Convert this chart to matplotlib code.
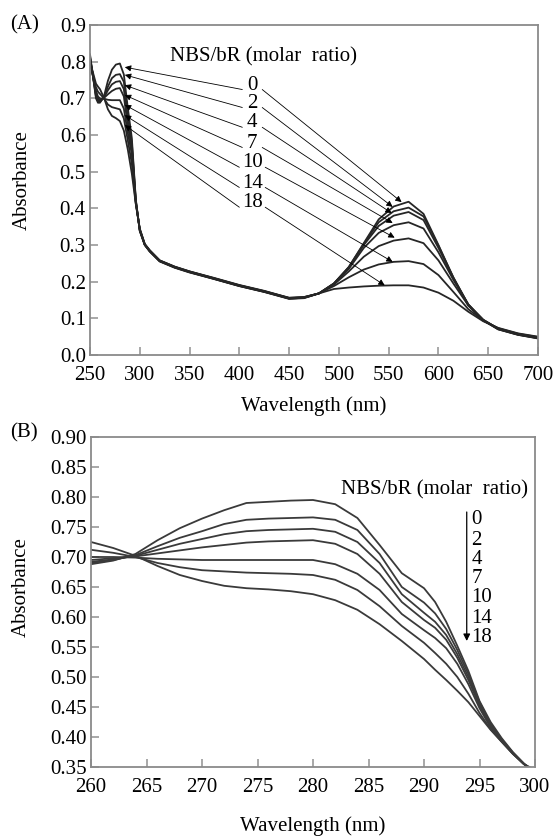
import matplotlib
matplotlib.use('Agg')
import matplotlib.pyplot as plt

plt.rcParams['font.family'] = ['Liberation Serif', 'DejaVu Serif']

# molar ratios NBS/bR
ratios = ['0', '2', '4', '7', '10', '14', '18']

# panel A: full spectra
wl_a = [250, 253, 256, 258, 260, 264, 268, 272, 276, 280, 284, 288, 292, 296, 300,
        305, 310, 320, 335, 350, 375, 400, 425, 450, 465, 480, 495, 510, 525, 540,
        555, 570, 585, 600, 615, 630, 645, 660, 680, 700]
a0 = [0.820, 0.760, 0.700, 0.688, 0.688, 0.705, 0.748, 0.778, 0.792, 0.795, 0.765, 0.673, 0.592, 0.425, 0.338,
      0.300, 0.282, 0.255, 0.238, 0.225, 0.207, 0.188, 0.172, 0.153, 0.155, 0.168, 0.195, 0.240, 0.305, 0.370,
      0.405, 0.418, 0.385, 0.300, 0.210, 0.135, 0.095, 0.070, 0.055, 0.045]
a2 = [0.815, 0.760, 0.705, 0.692, 0.690, 0.703, 0.732, 0.755, 0.764, 0.766, 0.745, 0.650, 0.580, 0.422, 0.339,
      0.300, 0.283, 0.256, 0.239, 0.226, 0.207, 0.188, 0.172, 0.154, 0.156, 0.168, 0.195, 0.240, 0.303, 0.362,
      0.392, 0.402, 0.378, 0.298, 0.212, 0.137, 0.094, 0.070, 0.055, 0.046]
a4 = [0.810, 0.760, 0.710, 0.695, 0.692, 0.702, 0.722, 0.738, 0.745, 0.747, 0.725, 0.638, 0.570, 0.420, 0.340,
      0.301, 0.283, 0.256, 0.239, 0.226, 0.208, 0.189, 0.173, 0.154, 0.156, 0.168, 0.195, 0.238, 0.300, 0.352,
      0.380, 0.390, 0.368, 0.292, 0.210, 0.138, 0.095, 0.071, 0.056, 0.046]
a7 = [0.810, 0.760, 0.715, 0.700, 0.695, 0.701, 0.711, 0.720, 0.726, 0.728, 0.705, 0.625, 0.562, 0.418, 0.341,
      0.301, 0.284, 0.257, 0.240, 0.227, 0.208, 0.189, 0.173, 0.155, 0.157, 0.168, 0.194, 0.235, 0.292, 0.333,
      0.354, 0.362, 0.345, 0.280, 0.205, 0.138, 0.096, 0.072, 0.056, 0.047]
a10 = [0.800, 0.760, 0.720, 0.705, 0.700, 0.699, 0.696, 0.695, 0.695, 0.695, 0.672, 0.605, 0.548, 0.416, 0.342,
       0.302, 0.284, 0.257, 0.240, 0.227, 0.209, 0.190, 0.174, 0.155, 0.157, 0.168, 0.192, 0.228, 0.268, 0.297,
       0.312, 0.318, 0.305, 0.258, 0.195, 0.135, 0.096, 0.072, 0.057, 0.048]
a14 = [0.800, 0.765, 0.730, 0.718, 0.712, 0.700, 0.683, 0.676, 0.673, 0.670, 0.645, 0.585, 0.522, 0.413, 0.343,
       0.302, 0.285, 0.258, 0.241, 0.228, 0.209, 0.190, 0.174, 0.156, 0.158, 0.168, 0.188, 0.212, 0.233, 0.247,
       0.254, 0.256, 0.248, 0.218, 0.172, 0.125, 0.094, 0.073, 0.058, 0.049]
a18 = [0.800, 0.770, 0.740, 0.732, 0.725, 0.702, 0.670, 0.652, 0.646, 0.638, 0.612, 0.560, 0.495, 0.412, 0.345,
       0.303, 0.286, 0.258, 0.241, 0.228, 0.210, 0.191, 0.175, 0.156, 0.158, 0.168, 0.180, 0.184, 0.187, 0.189,
       0.190, 0.190, 0.184, 0.170, 0.148, 0.118, 0.092, 0.074, 0.059, 0.050]

# panel B: zoom on the 280 nm band
wl_b = [260, 262, 264, 266, 268, 270, 272, 274, 276, 278, 280, 282, 284, 286, 288,
        290, 291, 292, 293, 294, 295, 296, 297, 298, 299, 300]
b0 = [0.688, 0.694, 0.705, 0.728, 0.748, 0.764, 0.778, 0.790, 0.792, 0.794, 0.795, 0.788, 0.765, 0.720, 0.673,
      0.648, 0.625, 0.592, 0.552, 0.510, 0.460, 0.425, 0.398, 0.375, 0.356, 0.338]
b2 = [0.690, 0.695, 0.703, 0.718, 0.732, 0.743, 0.755, 0.762, 0.764, 0.765, 0.766, 0.762, 0.745, 0.705, 0.650,
      0.624, 0.606, 0.580, 0.545, 0.505, 0.458, 0.422, 0.396, 0.374, 0.355, 0.339]
b4 = [0.692, 0.696, 0.702, 0.712, 0.722, 0.730, 0.738, 0.743, 0.745, 0.746, 0.747, 0.742, 0.725, 0.690, 0.638,
      0.607, 0.592, 0.570, 0.538, 0.500, 0.455, 0.420, 0.395, 0.373, 0.355, 0.340]
b7 = [0.695, 0.698, 0.701, 0.706, 0.711, 0.716, 0.720, 0.724, 0.726, 0.727, 0.728, 0.722, 0.705, 0.672, 0.625,
      0.595, 0.582, 0.562, 0.532, 0.495, 0.452, 0.418, 0.394, 0.373, 0.355, 0.341]
b10 = [0.700, 0.700, 0.699, 0.697, 0.696, 0.695, 0.695, 0.695, 0.695, 0.695, 0.695, 0.688, 0.672, 0.645, 0.605,
       0.578, 0.565, 0.548, 0.522, 0.488, 0.448, 0.416, 0.393, 0.373, 0.355, 0.342]
b14 = [0.712, 0.707, 0.700, 0.690, 0.683, 0.678, 0.676, 0.674, 0.673, 0.672, 0.670, 0.662, 0.645, 0.618, 0.585,
       0.557, 0.540, 0.522, 0.500, 0.472, 0.440, 0.413, 0.392, 0.372, 0.355, 0.343]
b18 = [0.725, 0.715, 0.702, 0.685, 0.670, 0.660, 0.652, 0.648, 0.646, 0.643, 0.638, 0.628, 0.612, 0.588, 0.560,
       0.530, 0.512, 0.495, 0.477, 0.458, 0.435, 0.412, 0.392, 0.372, 0.355, 0.345]

# label positions and arrow tips (wavelength, absorbance)
lab_y_a = [0.736, 0.687, 0.633, 0.578, 0.524, 0.469, 0.415]
tip_left = [0.785, 0.764, 0.736, 0.709, 0.682, 0.654, 0.627]
tip_right_x = [563, 554, 553, 554, 556, 554, 546]
tip_right_y = [0.417, 0.404, 0.387, 0.360, 0.320, 0.254, 0.190]
lab_y_b = [0.762, 0.727, 0.695, 0.664, 0.632, 0.598, 0.565]

curves_a = [a0, a2, a4, a7, a10, a14, a18]
curves_b = [b0, b2, b4, b7, b10, b14, b18]

fig = plt.figure(figsize=(5.56, 8.39), dpi=100)
ax1 = fig.add_axes([90/556, 1-355/839, 448/556, 330/839])
ax2 = fig.add_axes([91/556, 1-767/839, 444/556, 330/839])

for c in curves_a:
    ax1.plot(wl_a, c, color='#262626', lw=1.3)
for c in curves_b:
    ax2.plot(wl_b, c, color='#3a3a3a', lw=1.3)

fs = 15
for ax in (ax1, ax2):
    for s in ax.spines.values():
        s.set_color('#8a8a8a')
        s.set_linewidth(1.3)
    ax.tick_params(direction='in', length=6, width=1.2, color='#9a9a9a',
                   labelsize=fs, pad=3)
    ax.tick_params(axis='x', pad=8)

ax1.set_xlim(250, 700)
ax1.set_ylim(0.0, 0.9)
ax1.set_xticks(range(250, 701, 50))
ax1.set_yticks([i/10 for i in range(10)])
ax1.set_yticklabels([f'{i/10:.1f}' for i in range(10)])
ax1.set_xlabel('Wavelength (nm)', fontsize=fs)
ax1.set_ylabel('Absorbance', fontsize=fs)
ax1.xaxis.set_label_coords(0.5, -0.125)
ax1.yaxis.set_label_coords(-0.13, 0.53)

ax2.set_xlim(260, 300)
ax2.set_ylim(0.35, 0.90)
ax2.set_xticks(range(260, 301, 5))
ax2.set_yticks([0.35 + 0.05*i for i in range(12)])
ax2.set_yticklabels([f'{0.35 + 0.05*i:.2f}' for i in range(12)])
ax2.set_xlabel('Wavelength (nm)', fontsize=fs)
ax2.set_ylabel('Absorbance', fontsize=fs)
ax2.xaxis.set_label_coords(0.5, -0.148)
ax2.yaxis.set_label_coords(-0.135, 0.545)

# panel A labels and arrows
ax1.text(424, 0.813, 'NBS/bR (molar  ratio)', fontsize=fs, ha='center', va='center')
ap = dict(arrowstyle='-|>', lw=0.6, color='k', mutation_scale=9, shrinkA=0, shrinkB=0)
for i, r in enumerate(ratios):
    ax1.text(413, lab_y_a[i], r, fontsize=fs, ha='center', va='center')
    off = 5 + 3*len(r)
    ax1.annotate('', xy=(285, tip_left[i]), xytext=(413 - off - 2, lab_y_a[i] - 0.012),
                 arrowprops=ap)
    ax1.annotate('', xy=(tip_right_x[i], tip_right_y[i]), xytext=(413 + off + 2, lab_y_a[i] - 0.012),
                 arrowprops=ap)

# panel B labels and arrow
ax2.text(299.4, 0.812, 'NBS/bR (molar  ratio)', fontsize=fs, ha='right', va='center')
for i, r in enumerate(ratios):
    ax2.text(294.25, lab_y_b[i], r, fontsize=fs, ha='left', va='center')
ax2.annotate('', xy=(293.85, 0.560), xytext=(293.85, 0.775),
             arrowprops=dict(arrowstyle='-|>', lw=0.9, color='k', mutation_scale=10,
                             shrinkA=0, shrinkB=0))

fig.text(10/556, 1-25/839, '(A)', fontsize=fs, ha='left', va='center')
fig.text(10/556, 1-433/839, '(B)', fontsize=fs, ha='left', va='center')

fig.savefig('out.png', dpi=100)
